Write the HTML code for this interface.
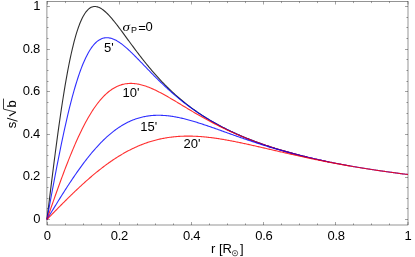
<!DOCTYPE html>
<html><head><meta charset="utf-8"><title>plot</title>
<style>html,body{margin:0;padding:0;background:#fff;}body{width:415px;height:257px;overflow:hidden;font-family:"Liberation Sans",sans-serif;}svg{display:block;will-change:transform;}</style>
</head><body>
<svg width="415" height="257" viewBox="0 0 415 257" font-family="Liberation Sans, sans-serif" font-size="13" fill="#000">
<rect x="46.95" y="1.5" width="361.05" height="223.50" fill="none" stroke="#000" stroke-width="0.42"/>
<path d="M47.45,225.0v-3.0 M47.45,1.5v3.0 M65.50,225.0v-1.6 M65.50,1.5v1.6 M83.50,225.0v-1.6 M83.50,1.5v1.6 M101.50,225.0v-1.6 M101.50,1.5v1.6 M119.50,225.0v-3.0 M119.50,1.5v3.0 M137.50,225.0v-1.6 M137.50,1.5v1.6 M155.50,225.0v-1.6 M155.50,1.5v1.6 M173.50,225.0v-1.6 M173.50,1.5v1.6 M191.50,225.0v-3.0 M191.50,1.5v3.0 M209.50,225.0v-1.6 M209.50,1.5v1.6 M227.50,225.0v-1.6 M227.50,1.5v1.6 M245.50,225.0v-1.6 M245.50,1.5v1.6 M263.50,225.0v-3.0 M263.50,1.5v3.0 M281.50,225.0v-1.6 M281.50,1.5v1.6 M299.50,225.0v-1.6 M299.50,1.5v1.6 M317.50,225.0v-1.6 M317.50,1.5v1.6 M335.50,225.0v-3.0 M335.50,1.5v3.0 M353.50,225.0v-1.6 M353.50,1.5v1.6 M371.50,225.0v-1.6 M371.50,1.5v1.6 M389.50,225.0v-1.6 M389.50,1.5v1.6 M408.00,225.0v-3.0 M408.00,1.5v3.0 M46.95,219.50h3.0 M408.0,219.50h-3.0 M46.95,208.50h1.6 M408.0,208.50h-1.6 M46.95,198.50h1.6 M408.0,198.50h-1.6 M46.95,187.50h1.6 M408.0,187.50h-1.6 M46.95,177.50h3.0 M408.0,177.50h-3.0 M46.95,166.50h1.6 M408.0,166.50h-1.6 M46.95,155.50h1.6 M408.0,155.50h-1.6 M46.95,145.50h1.6 M408.0,145.50h-1.6 M46.95,134.50h3.0 M408.0,134.50h-3.0 M46.95,123.50h1.6 M408.0,123.50h-1.6 M46.95,113.50h1.6 M408.0,113.50h-1.6 M46.95,102.50h1.6 M408.0,102.50h-1.6 M46.95,91.50h3.0 M408.0,91.50h-3.0 M46.95,81.50h1.6 M408.0,81.50h-1.6 M46.95,70.50h1.6 M408.0,70.50h-1.6 M46.95,59.50h1.6 M408.0,59.50h-1.6 M46.95,49.50h3.0 M408.0,49.50h-3.0 M46.95,38.50h1.6 M408.0,38.50h-1.6 M46.95,27.50h1.6 M408.0,27.50h-1.6 M46.95,17.50h1.6 M408.0,17.50h-1.6 M46.95,6.50h3.0 M408.0,6.50h-3.0" fill="none" stroke="#000" stroke-width="0.36"/>
<path d="M46.95,219.46 L47.85,212.09 L48.76,204.73 L49.66,197.39 L50.56,190.09 L51.46,182.83 L52.37,175.63 L53.27,168.49 L54.17,161.44 L55.07,154.47 L55.98,147.60 L56.88,140.84 L57.78,134.19 L58.68,127.67 L59.59,121.29 L60.49,115.04 L61.39,108.95 L62.29,103.01 L63.20,97.23 L64.10,91.62 L65.00,86.18 L65.91,80.92 L66.81,75.84 L67.71,70.95 L68.61,66.24 L69.52,61.72 L70.42,57.39 L71.32,53.25 L72.22,49.30 L73.13,45.55 L74.03,41.99 L74.93,38.62 L75.83,35.44 L76.74,32.45 L77.64,29.64 L78.54,27.02 L79.44,24.57 L80.35,22.30 L81.25,20.21 L82.15,18.28 L83.06,16.52 L83.96,14.92 L84.86,13.48 L85.76,12.19 L86.67,11.04 L87.57,10.04 L88.47,9.17 L89.37,8.44 L90.28,7.83 L91.18,7.34 L92.08,6.97 L92.98,6.71 L93.89,6.55 L94.79,6.50 L95.69,6.54 L96.59,6.67 L97.50,6.89 L98.40,7.19 L99.30,7.57 L100.20,8.02 L101.11,8.54 L102.01,9.12 L102.91,9.77 L103.82,10.47 L104.72,11.22 L105.62,12.02 L106.52,12.86 L107.43,13.75 L108.33,14.67 L109.23,15.63 L110.13,16.63 L111.04,17.65 L111.94,18.70 L112.84,19.78 L113.74,20.87 L114.65,21.99 L115.55,23.13 L116.45,24.28 L117.35,25.45 L118.26,26.63 L119.16,27.82 L120.06,29.03 L120.97,30.24 L121.87,31.45 L122.77,32.67 L123.67,33.90 L124.58,35.13 L125.48,36.36 L126.38,37.60 L127.28,38.83 L128.19,40.06 L129.09,41.29 L129.99,42.52 L130.89,43.75 L131.80,44.98 L132.70,46.20 L133.60,47.41 L134.50,48.62 L135.41,49.83 L136.31,51.03 L137.21,52.23 L138.12,53.41 L139.02,54.59 L139.92,55.77 L140.82,56.93 L141.73,58.09 L142.63,59.24 L143.53,60.39 L144.43,61.52 L145.34,62.65 L146.24,63.76 L147.14,64.87 L148.04,65.97 L148.95,67.06 L149.85,68.14 L150.75,69.21 L151.65,70.27 L152.56,71.33 L153.46,72.37 L154.36,73.40 L155.26,74.43 L156.17,75.44 L157.07,76.45 L157.97,77.44 L158.88,78.43 L159.78,79.40 L160.68,80.37 L161.58,81.32 L162.49,82.27 L163.39,83.21 L164.29,84.14 L165.19,85.05 L166.10,85.96 L167.00,86.86 L167.90,87.75 L168.80,88.63 L169.71,89.50 L170.61,90.36 L171.51,91.22 L172.41,92.06 L173.32,92.90 L174.22,93.72 L175.12,94.54 L176.03,95.35 L176.93,96.15 L177.83,96.94 L178.73,97.72 L179.64,98.49 L180.54,99.26 L181.44,100.01 L182.34,100.76 L183.25,101.50 L184.15,102.24 L185.05,102.96 L185.95,103.68 L186.86,104.39 L187.76,105.09 L188.66,105.78 L189.56,106.47 L190.47,107.15 L191.37,107.82 L192.27,108.49 L193.18,109.14 L194.08,109.79 L194.98,110.44 L195.88,111.07 L196.79,111.70 L197.69,112.33 L198.59,112.94 L199.49,113.55 L200.40,114.16 L201.30,114.76 L202.20,115.35 L203.10,115.93 L204.01,116.51 L204.91,117.08 L205.81,117.65 L206.71,118.21 L207.62,118.77 L208.52,119.32 L209.42,119.86 L210.33,120.40 L211.23,120.93 L212.13,121.46 L213.03,121.98 L213.94,122.50 L214.84,123.01 L215.74,123.52 L216.64,124.02 L217.55,124.52 L218.45,125.01 L219.35,125.50 L220.25,125.98 L221.16,126.46 L222.06,126.93 L222.96,127.40 L223.86,127.86 L224.77,128.32 L225.67,128.78 L226.57,129.23 L227.48,129.67 L228.38,130.12 L229.28,130.55 L230.18,130.99 L231.09,131.42 L231.99,131.84 L232.89,132.27 L233.79,132.68 L234.70,133.10 L235.60,133.51 L236.50,133.91 L237.40,134.32 L238.31,134.71 L239.21,135.11 L240.11,135.50 L241.01,135.89 L241.92,136.27 L242.82,136.66 L243.72,137.03 L244.62,137.41 L245.53,137.78 L246.43,138.15 L247.33,138.51 L248.24,138.87 L249.14,139.23 L250.04,139.59 L250.94,139.94 L251.85,140.29 L252.75,140.63 L253.65,140.98 L254.55,141.32 L255.46,141.65 L256.36,141.99 L257.26,142.32 L258.16,142.65 L259.07,142.98 L259.97,143.30 L260.87,143.62 L261.77,143.94 L262.68,144.25 L263.58,144.57 L264.48,144.88 L265.39,145.18 L266.29,145.49 L267.19,145.79 L268.09,146.09 L269.00,146.39 L269.90,146.68 L270.80,146.98 L271.70,147.27 L272.61,147.56 L273.51,147.84 L274.41,148.13 L275.31,148.41 L276.22,148.69 L277.12,148.96 L278.02,149.24 L278.92,149.51 L279.83,149.78 L280.73,150.05 L281.63,150.32 L282.54,150.58 L283.44,150.85 L284.34,151.11 L285.24,151.37 L286.15,151.62 L287.05,151.88 L287.95,152.13 L288.85,152.38 L289.76,152.63 L290.66,152.88 L291.56,153.12 L292.46,153.37 L293.37,153.61 L294.27,153.85 L295.17,154.09 L296.07,154.33 L296.98,154.56 L297.88,154.79 L298.78,155.03 L299.69,155.26 L300.59,155.48 L301.49,155.71 L302.39,155.94 L303.30,156.16 L304.20,156.38 L305.10,156.60 L306.00,156.82 L306.91,157.04" fill="none" stroke="#000000" stroke-width="1.1" stroke-opacity="0.82" stroke-linejoin="round"/>
<path d="M46.95,219.46 L47.85,214.55 L48.76,209.65 L49.66,204.76 L50.56,199.88 L51.46,195.02 L52.37,190.18 L53.27,185.37 L54.17,180.59 L55.07,175.84 L55.98,171.14 L56.88,166.47 L57.78,161.86 L58.68,157.29 L59.59,152.78 L60.49,148.33 L61.39,143.94 L62.29,139.62 L63.20,135.36 L64.10,131.18 L65.00,127.07 L65.91,123.04 L66.81,119.09 L67.71,115.22 L68.61,111.44 L69.52,107.74 L70.42,104.14 L71.32,100.62 L72.22,97.20 L73.13,93.88 L74.03,90.65 L74.93,87.52 L75.83,84.48 L76.74,81.55 L77.64,78.71 L78.54,75.98 L79.44,73.34 L80.35,70.81 L81.25,68.38 L82.15,66.05 L83.06,63.82 L83.96,61.69 L84.86,59.66 L85.76,57.73 L86.67,55.90 L87.57,54.17 L88.47,52.53 L89.37,50.99 L90.28,49.54 L91.18,48.18 L92.08,46.92 L92.98,45.75 L93.89,44.66 L94.79,43.67 L95.69,42.75 L96.59,41.92 L97.50,41.17 L98.40,40.50 L99.30,39.91 L100.20,39.40 L101.11,38.95 L102.01,38.58 L102.91,38.28 L103.82,38.04 L104.72,37.87 L105.62,37.76 L106.52,37.72 L107.43,37.73 L108.33,37.80 L109.23,37.92 L110.13,38.09 L111.04,38.32 L111.94,38.59 L112.84,38.91 L113.74,39.27 L114.65,39.67 L115.55,40.11 L116.45,40.59 L117.35,41.11 L118.26,41.66 L119.16,42.25 L120.06,42.86 L120.97,43.51 L121.87,44.18 L122.77,44.87 L123.67,45.59 L124.58,46.33 L125.48,47.10 L126.38,47.88 L127.28,48.68 L128.19,49.50 L129.09,50.33 L129.99,51.18 L130.89,52.04 L131.80,52.91 L132.70,53.79 L133.60,54.68 L134.50,55.58 L135.41,56.49 L136.31,57.40 L137.21,58.32 L138.12,59.25 L139.02,60.18 L139.92,61.11 L140.82,62.05 L141.73,62.98 L142.63,63.92 L143.53,64.86 L144.43,65.80 L145.34,66.74 L146.24,67.68 L147.14,68.61 L148.04,69.55 L148.95,70.48 L149.85,71.41 L150.75,72.34 L151.65,73.26 L152.56,74.18 L153.46,75.09 L154.36,76.01 L155.26,76.91 L156.17,77.81 L157.07,78.71 L157.97,79.60 L158.88,80.49 L159.78,81.37 L160.68,82.24 L161.58,83.11 L162.49,83.97 L163.39,84.83 L164.29,85.68 L165.19,86.52 L166.10,87.36 L167.00,88.19 L167.90,89.01 L168.80,89.83 L169.71,90.64 L170.61,91.44 L171.51,92.24 L172.41,93.03 L173.32,93.82 L174.22,94.59 L175.12,95.36 L176.03,96.13 L176.93,96.89 L177.83,97.64 L178.73,98.38 L179.64,99.12 L180.54,99.85 L181.44,100.57 L182.34,101.29 L183.25,102.00 L184.15,102.70 L185.05,103.40 L185.95,104.09 L186.86,104.77 L187.76,105.45 L188.66,106.12 L189.56,106.79 L190.47,107.45 L191.37,108.10 L192.27,108.75 L193.18,109.39 L194.08,110.02 L194.98,110.65 L195.88,111.27 L196.79,111.89 L197.69,112.50 L198.59,113.10 L199.49,113.70 L200.40,114.29 L201.30,114.88 L202.20,115.46 L203.10,116.04 L204.01,116.61 L204.91,117.17 L205.81,117.73 L206.71,118.29 L207.62,118.84 L208.52,119.38 L209.42,119.92 L210.33,120.45 L211.23,120.98 L212.13,121.50 L213.03,122.02 L213.94,122.53 L214.84,123.04 L215.74,123.55 L216.64,124.04 L217.55,124.54 L218.45,125.03 L219.35,125.51 L220.25,125.99 L221.16,126.47 L222.06,126.94 L222.96,127.41 L223.86,127.87 L224.77,128.33 L225.67,128.78 L226.57,129.23 L227.48,129.67 L228.38,130.11 L229.28,130.55 L230.18,130.98 L231.09,131.41 L231.99,131.84 L232.89,132.26 L233.79,132.68 L234.70,133.09 L235.60,133.50 L236.50,133.91 L237.40,134.31 L238.31,134.71 L239.21,135.10 L240.11,135.49 L241.01,135.88 L241.92,136.27 L242.82,136.65 L243.72,137.03 L244.62,137.40 L245.53,137.77 L246.43,138.14 L247.33,138.50 L248.24,138.87 L249.14,139.22 L250.04,139.58 L250.94,139.93 L251.85,140.28 L252.75,140.63 L253.65,140.97 L254.55,141.31 L255.46,141.65 L256.36,141.98 L257.26,142.32 L258.16,142.64 L259.07,142.97 L259.97,143.29 L260.87,143.61 L261.77,143.93 L262.68,144.25 L263.58,144.56 L264.48,144.87 L265.39,145.18 L266.29,145.48 L267.19,145.79 L268.09,146.09 L269.00,146.39 L269.90,146.68 L270.80,146.97 L271.70,147.27 L272.61,147.55 L273.51,147.84 L274.41,148.12 L275.31,148.41 L276.22,148.69 L277.12,148.96 L278.02,149.24 L278.92,149.51 L279.83,149.78 L280.73,150.05 L281.63,150.32 L282.54,150.58 L283.44,150.85 L284.34,151.11 L285.24,151.36 L286.15,151.62 L287.05,151.88 L287.95,152.13 L288.85,152.38 L289.76,152.63 L290.66,152.88 L291.56,153.12 L292.46,153.37 L293.37,153.61 L294.27,153.85 L295.17,154.09 L296.07,154.32 L296.98,154.56 L297.88,154.79 L298.78,155.03 L299.69,155.26 L300.59,155.48 L301.49,155.71 L302.39,155.94 L303.30,156.16 L304.20,156.38 L305.10,156.60 L306.00,156.82 L306.91,157.04 L307.81,157.25 L308.71,157.47 L309.61,157.68 L310.52,157.89 L311.42,158.10 L312.32,158.31 L313.22,158.52 L314.13,158.73 L315.03,158.93 L315.93,159.13 L316.83,159.34 L317.74,159.54 L318.64,159.73 L319.54,159.93 L320.45,160.13 L321.35,160.32 L322.25,160.52 L323.15,160.71 L324.06,160.90 L324.96,161.09 L325.86,161.28 L326.76,161.47 L327.67,161.65 L328.57,161.84" fill="none" stroke="#0000ff" stroke-width="1.1" stroke-opacity="0.82" stroke-linejoin="round"/>
<path d="M46.95,219.46 L47.85,216.87 L48.76,214.28 L49.66,211.70 L50.56,209.11 L51.46,206.53 L52.37,203.96 L53.27,201.40 L54.17,198.84 L55.07,196.29 L55.98,193.75 L56.88,191.23 L57.78,188.71 L58.68,186.21 L59.59,183.73 L60.49,181.26 L61.39,178.80 L62.29,176.37 L63.20,173.95 L64.10,171.55 L65.00,169.17 L65.91,166.82 L66.81,164.49 L67.71,162.18 L68.61,159.89 L69.52,157.63 L70.42,155.40 L71.32,153.19 L72.22,151.02 L73.13,148.87 L74.03,146.74 L74.93,144.65 L75.83,142.59 L76.74,140.56 L77.64,138.56 L78.54,136.60 L79.44,134.66 L80.35,132.77 L81.25,130.90 L82.15,129.07 L83.06,127.27 L83.96,125.51 L84.86,123.79 L85.76,122.10 L86.67,120.44 L87.57,118.83 L88.47,117.25 L89.37,115.70 L90.28,114.20 L91.18,112.73 L92.08,111.30 L92.98,109.91 L93.89,108.55 L94.79,107.24 L95.69,105.96 L96.59,104.72 L97.50,103.52 L98.40,102.35 L99.30,101.22 L100.20,100.13 L101.11,99.08 L102.01,98.07 L102.91,97.09 L103.82,96.15 L104.72,95.24 L105.62,94.38 L106.52,93.55 L107.43,92.75 L108.33,91.99 L109.23,91.27 L110.13,90.58 L111.04,89.93 L111.94,89.31 L112.84,88.72 L113.74,88.17 L114.65,87.65 L115.55,87.16 L116.45,86.71 L117.35,86.29 L118.26,85.89 L119.16,85.53 L120.06,85.20 L120.97,84.90 L121.87,84.63 L122.77,84.39 L123.67,84.17 L124.58,83.99 L125.48,83.83 L126.38,83.69 L127.28,83.59 L128.19,83.51 L129.09,83.45 L129.99,83.42 L130.89,83.41 L131.80,83.42 L132.70,83.46 L133.60,83.52 L134.50,83.60 L135.41,83.70 L136.31,83.82 L137.21,83.97 L138.12,84.13 L139.02,84.31 L139.92,84.50 L140.82,84.72 L141.73,84.95 L142.63,85.20 L143.53,85.46 L144.43,85.74 L145.34,86.04 L146.24,86.35 L147.14,86.67 L148.04,87.01 L148.95,87.36 L149.85,87.72 L150.75,88.09 L151.65,88.48 L152.56,88.87 L153.46,89.28 L154.36,89.69 L155.26,90.12 L156.17,90.55 L157.07,91.00 L157.97,91.45 L158.88,91.91 L159.78,92.37 L160.68,92.85 L161.58,93.33 L162.49,93.81 L163.39,94.30 L164.29,94.80 L165.19,95.30 L166.10,95.81 L167.00,96.32 L167.90,96.84 L168.80,97.36 L169.71,97.88 L170.61,98.40 L171.51,98.93 L172.41,99.46 L173.32,100.00 L174.22,100.53 L175.12,101.07 L176.03,101.61 L176.93,102.15 L177.83,102.69 L178.73,103.24 L179.64,103.78 L180.54,104.32 L181.44,104.87 L182.34,105.41 L183.25,105.95 L184.15,106.50 L185.05,107.04 L185.95,107.58 L186.86,108.12 L187.76,108.66 L188.66,109.20 L189.56,109.74 L190.47,110.28 L191.37,110.81 L192.27,111.35 L193.18,111.88 L194.08,112.41 L194.98,112.94 L195.88,113.46 L196.79,113.99 L197.69,114.51 L198.59,115.03 L199.49,115.55 L200.40,116.06 L201.30,116.57 L202.20,117.08 L203.10,117.59 L204.01,118.09 L204.91,118.59 L205.81,119.09 L206.71,119.59 L207.62,120.08 L208.52,120.57 L209.42,121.06 L210.33,121.54 L211.23,122.02 L212.13,122.50 L213.03,122.97 L213.94,123.44 L214.84,123.91 L215.74,124.38 L216.64,124.84 L217.55,125.30 L218.45,125.75 L219.35,126.20 L220.25,126.65 L221.16,127.10 L222.06,127.54 L222.96,127.98 L223.86,128.42 L224.77,128.85 L225.67,129.28 L226.57,129.71 L227.48,130.13 L228.38,130.55 L229.28,130.97 L230.18,131.38 L231.09,131.79 L231.99,132.20 L232.89,132.60 L233.79,133.01 L234.70,133.40 L235.60,133.80 L236.50,134.19 L237.40,134.58 L238.31,134.97 L239.21,135.35 L240.11,135.73 L241.01,136.11 L241.92,136.48 L242.82,136.85 L243.72,137.22 L244.62,137.59 L245.53,137.95 L246.43,138.31 L247.33,138.66 L248.24,139.02 L249.14,139.37 L250.04,139.72 L250.94,140.06 L251.85,140.41 L252.75,140.75 L253.65,141.08 L254.55,141.42 L255.46,141.75 L256.36,142.08 L257.26,142.41 L258.16,142.73 L259.07,143.05 L259.97,143.37 L260.87,143.69 L261.77,144.00 L262.68,144.32 L263.58,144.62 L264.48,144.93 L265.39,145.24 L266.29,145.54 L267.19,145.84 L268.09,146.14 L269.00,146.43 L269.90,146.73 L270.80,147.02 L271.70,147.30 L272.61,147.59 L273.51,147.88 L274.41,148.16 L275.31,148.44 L276.22,148.72 L277.12,148.99 L278.02,149.26 L278.92,149.54 L279.83,149.81 L280.73,150.07 L281.63,150.34 L282.54,150.60 L283.44,150.86 L284.34,151.12 L285.24,151.38 L286.15,151.64 L287.05,151.89 L287.95,152.14 L288.85,152.39 L289.76,152.64 L290.66,152.89 L291.56,153.14 L292.46,153.38 L293.37,153.62 L294.27,153.86 L295.17,154.10 L296.07,154.33 L296.98,154.57 L297.88,154.80 L298.78,155.03 L299.69,155.26 L300.59,155.49 L301.49,155.72 L302.39,155.94 L303.30,156.17 L304.20,156.39 L305.10,156.61 L306.00,156.83 L306.91,157.04 L307.81,157.26 L308.71,157.47 L309.61,157.69 L310.52,157.90 L311.42,158.11 L312.32,158.32 L313.22,158.52 L314.13,158.73 L315.03,158.93 L315.93,159.14 L316.83,159.34 L317.74,159.54 L318.64,159.74 L319.54,159.93 L320.45,160.13 L321.35,160.33 L322.25,160.52 L323.15,160.71 L324.06,160.90 L324.96,161.09 L325.86,161.28 L326.76,161.47 L327.67,161.66 L328.57,161.84 L329.47,162.03 L330.37,162.21 L331.28,162.39 L332.18,162.57 L333.08,162.75 L333.98,162.93 L334.89,163.11 L335.79,163.28 L336.69,163.46 L337.60,163.63 L338.50,163.80 L339.40,163.97 L340.30,164.15 L341.21,164.32 L342.11,164.48 L343.01,164.65 L343.91,164.82 L344.82,164.98 L345.72,165.15 L346.62,165.31 L347.52,165.47 L348.43,165.64 L349.33,165.80 L350.23,165.96" fill="none" stroke="#ff0000" stroke-width="1.1" stroke-opacity="0.82" stroke-linejoin="round"/>
<path d="M46.95,219.46 L47.85,217.98 L48.76,216.49 L49.66,215.01 L50.56,213.53 L51.46,212.05 L52.37,210.57 L53.27,209.10 L54.17,207.62 L55.07,206.15 L55.98,204.68 L56.88,203.22 L57.78,201.76 L58.68,200.31 L59.59,198.86 L60.49,197.41 L61.39,195.97 L62.29,194.54 L63.20,193.11 L64.10,191.69 L65.00,190.27 L65.91,188.86 L66.81,187.46 L67.71,186.07 L68.61,184.69 L69.52,183.31 L70.42,181.94 L71.32,180.58 L72.22,179.23 L73.13,177.89 L74.03,176.57 L74.93,175.25 L75.83,173.94 L76.74,172.64 L77.64,171.35 L78.54,170.07 L79.44,168.81 L80.35,167.56 L81.25,166.31 L82.15,165.09 L83.06,163.87 L83.96,162.67 L84.86,161.47 L85.76,160.30 L86.67,159.13 L87.57,157.98 L88.47,156.84 L89.37,155.72 L90.28,154.61 L91.18,153.52 L92.08,152.44 L92.98,151.37 L93.89,150.32 L94.79,149.28 L95.69,148.26 L96.59,147.26 L97.50,146.26 L98.40,145.29 L99.30,144.33 L100.20,143.39 L101.11,142.46 L102.01,141.54 L102.91,140.65 L103.82,139.77 L104.72,138.90 L105.62,138.05 L106.52,137.22 L107.43,136.40 L108.33,135.60 L109.23,134.82 L110.13,134.05 L111.04,133.30 L111.94,132.56 L112.84,131.85 L113.74,131.14 L114.65,130.46 L115.55,129.79 L116.45,129.13 L117.35,128.50 L118.26,127.88 L119.16,127.27 L120.06,126.68 L120.97,126.11 L121.87,125.55 L122.77,125.01 L123.67,124.49 L124.58,123.98 L125.48,123.49 L126.38,123.01 L127.28,122.55 L128.19,122.10 L129.09,121.67 L129.99,121.26 L130.89,120.86 L131.80,120.47 L132.70,120.10 L133.60,119.75 L134.50,119.41 L135.41,119.08 L136.31,118.77 L137.21,118.47 L138.12,118.19 L139.02,117.92 L139.92,117.67 L140.82,117.43 L141.73,117.20 L142.63,116.99 L143.53,116.79 L144.43,116.60 L145.34,116.43 L146.24,116.26 L147.14,116.12 L148.04,115.98 L148.95,115.86 L149.85,115.75 L150.75,115.65 L151.65,115.56 L152.56,115.49 L153.46,115.42 L154.36,115.37 L155.26,115.33 L156.17,115.30 L157.07,115.28 L157.97,115.27 L158.88,115.27 L159.78,115.28 L160.68,115.30 L161.58,115.33 L162.49,115.37 L163.39,115.43 L164.29,115.49 L165.19,115.55 L166.10,115.63 L167.00,115.72 L167.90,115.81 L168.80,115.92 L169.71,116.03 L170.61,116.15 L171.51,116.28 L172.41,116.41 L173.32,116.56 L174.22,116.71 L175.12,116.86 L176.03,117.03 L176.93,117.20 L177.83,117.38 L178.73,117.56 L179.64,117.75 L180.54,117.95 L181.44,118.15 L182.34,118.36 L183.25,118.57 L184.15,118.79 L185.05,119.01 L185.95,119.24 L186.86,119.48 L187.76,119.72 L188.66,119.96 L189.56,120.21 L190.47,120.46 L191.37,120.71 L192.27,120.98 L193.18,121.24 L194.08,121.51 L194.98,121.78 L195.88,122.05 L196.79,122.33 L197.69,122.61 L198.59,122.90 L199.49,123.18 L200.40,123.47 L201.30,123.77 L202.20,124.06 L203.10,124.36 L204.01,124.66 L204.91,124.96 L205.81,125.26 L206.71,125.57 L207.62,125.88 L208.52,126.19 L209.42,126.50 L210.33,126.81 L211.23,127.12 L212.13,127.44 L213.03,127.76 L213.94,128.07 L214.84,128.39 L215.74,128.71 L216.64,129.03 L217.55,129.35 L218.45,129.67 L219.35,129.99 L220.25,130.32 L221.16,130.64 L222.06,130.96 L222.96,131.28 L223.86,131.61 L224.77,131.93 L225.67,132.26 L226.57,132.58 L227.48,132.90 L228.38,133.22 L229.28,133.55 L230.18,133.87 L231.09,134.19 L231.99,134.51 L232.89,134.84 L233.79,135.16 L234.70,135.48 L235.60,135.80 L236.50,136.12 L237.40,136.43 L238.31,136.75 L239.21,137.07 L240.11,137.38 L241.01,137.70 L241.92,138.01 L242.82,138.33 L243.72,138.64 L244.62,138.95 L245.53,139.26 L246.43,139.57 L247.33,139.88 L248.24,140.19 L249.14,140.49 L250.04,140.80 L250.94,141.10 L251.85,141.40 L252.75,141.70 L253.65,142.00 L254.55,142.30 L255.46,142.60 L256.36,142.89 L257.26,143.19 L258.16,143.48 L259.07,143.77 L259.97,144.06 L260.87,144.35 L261.77,144.64 L262.68,144.92 L263.58,145.21 L264.48,145.49 L265.39,145.77 L266.29,146.05 L267.19,146.33 L268.09,146.61 L269.00,146.88 L269.90,147.16 L270.80,147.43 L271.70,147.70 L272.61,147.97 L273.51,148.24 L274.41,148.50 L275.31,148.77 L276.22,149.03 L277.12,149.29 L278.02,149.55 L278.92,149.81 L279.83,150.07 L280.73,150.33 L281.63,150.58 L282.54,150.83 L283.44,151.09 L284.34,151.34 L285.24,151.58 L286.15,151.83 L287.05,152.08 L287.95,152.32 L288.85,152.56 L289.76,152.80 L290.66,153.04 L291.56,153.28 L292.46,153.52 L293.37,153.75 L294.27,153.99 L295.17,154.22 L296.07,154.45 L296.98,154.68 L297.88,154.91 L298.78,155.13 L299.69,155.36 L300.59,155.58 L301.49,155.80 L302.39,156.02 L303.30,156.24 L304.20,156.46 L305.10,156.68 L306.00,156.89 L306.91,157.11 L307.81,157.32 L308.71,157.53 L309.61,157.74 L310.52,157.95 L311.42,158.16 L312.32,158.36 L313.22,158.57 L314.13,158.77 L315.03,158.97 L315.93,159.17 L316.83,159.37 L317.74,159.57 L318.64,159.77 L319.54,159.97 L320.45,160.16 L321.35,160.35 L322.25,160.55 L323.15,160.74 L324.06,160.93 L324.96,161.12 L325.86,161.30 L326.76,161.49 L327.67,161.68 L328.57,161.86 L329.47,162.04 L330.37,162.22 L331.28,162.41 L332.18,162.59 L333.08,162.76 L333.98,162.94 L334.89,163.12 L335.79,163.29 L336.69,163.47 L337.60,163.64 L338.50,163.81 L339.40,163.98 L340.30,164.15 L341.21,164.32 L342.11,164.49 L343.01,164.66 L343.91,164.83 L344.82,164.99 L345.72,165.15 L346.62,165.32 L347.52,165.48 L348.43,165.64 L349.33,165.80 L350.23,165.96 L351.13,166.12 L352.04,166.28 L352.94,166.43 L353.84,166.59 L354.75,166.74 L355.65,166.90 L356.55,167.05 L357.45,167.20 L358.36,167.35 L359.26,167.51 L360.16,167.65 L361.06,167.80 L361.97,167.95 L362.87,168.10 L363.77,168.24 L364.67,168.39 L365.58,168.53 L366.48,168.68 L367.38,168.82 L368.28,168.96 L369.19,169.10 L370.09,169.25 L370.99,169.39 L371.89,169.52 L372.80,169.66 L373.70,169.80 L374.60,169.94 L375.51,170.07 L376.41,170.21 L377.31,170.34 L378.21,170.48 L379.12,170.61 L380.02,170.74 L380.92,170.87 L381.82,171.00 L382.73,171.13 L383.63,171.26 L384.53,171.39 L385.43,171.52 L386.34,171.65 L387.24,171.78 L388.14,171.90 L389.04,172.03 L389.95,172.15 L390.85,172.28 L391.75,172.40 L392.66,172.52 L393.56,172.64 L394.46,172.77 L395.36,172.89 L396.27,173.01 L397.17,173.13 L398.07,173.25 L398.97,173.36 L399.88,173.48 L400.78,173.60 L401.68,173.72 L402.58,173.83 L403.49,173.95 L404.39,174.06 L405.29,174.18 L406.19,174.29 L407.10,174.40 L408.00,174.52" fill="none" stroke="#0000ff" stroke-width="1.1" stroke-opacity="0.82" stroke-linejoin="round"/>
<path d="M46.95,219.46 L47.85,218.54 L48.76,217.61 L49.66,216.69 L50.56,215.76 L51.46,214.84 L52.37,213.92 L53.27,213.00 L54.17,212.08 L55.07,211.16 L55.98,210.24 L56.88,209.32 L57.78,208.41 L58.68,207.49 L59.59,206.58 L60.49,205.67 L61.39,204.76 L62.29,203.86 L63.20,202.95 L64.10,202.05 L65.00,201.15 L65.91,200.25 L66.81,199.36 L67.71,198.47 L68.61,197.58 L69.52,196.70 L70.42,195.82 L71.32,194.94 L72.22,194.06 L73.13,193.19 L74.03,192.33 L74.93,191.46 L75.83,190.61 L76.74,189.75 L77.64,188.90 L78.54,188.05 L79.44,187.21 L80.35,186.37 L81.25,185.54 L82.15,184.71 L83.06,183.89 L83.96,183.07 L84.86,182.26 L85.76,181.45 L86.67,180.65 L87.57,179.85 L88.47,179.06 L89.37,178.27 L90.28,177.49 L91.18,176.72 L92.08,175.95 L92.98,175.19 L93.89,174.43 L94.79,173.68 L95.69,172.94 L96.59,172.20 L97.50,171.47 L98.40,170.74 L99.30,170.02 L100.20,169.31 L101.11,168.61 L102.01,167.91 L102.91,167.22 L103.82,166.53 L104.72,165.85 L105.62,165.18 L106.52,164.52 L107.43,163.86 L108.33,163.22 L109.23,162.57 L110.13,161.94 L111.04,161.31 L111.94,160.69 L112.84,160.08 L113.74,159.47 L114.65,158.88 L115.55,158.29 L116.45,157.71 L117.35,157.13 L118.26,156.57 L119.16,156.01 L120.06,155.46 L120.97,154.91 L121.87,154.38 L122.77,153.85 L123.67,153.33 L124.58,152.82 L125.48,152.32 L126.38,151.82 L127.28,151.33 L128.19,150.85 L129.09,150.38 L129.99,149.92 L130.89,149.46 L131.80,149.02 L132.70,148.58 L133.60,148.15 L134.50,147.72 L135.41,147.31 L136.31,146.90 L137.21,146.50 L138.12,146.11 L139.02,145.73 L139.92,145.35 L140.82,144.99 L141.73,144.63 L142.63,144.28 L143.53,143.93 L144.43,143.60 L145.34,143.27 L146.24,142.95 L147.14,142.64 L148.04,142.34 L148.95,142.04 L149.85,141.75 L150.75,141.47 L151.65,141.20 L152.56,140.94 L153.46,140.68 L154.36,140.43 L155.26,140.19 L156.17,139.95 L157.07,139.73 L157.97,139.51 L158.88,139.29 L159.78,139.09 L160.68,138.89 L161.58,138.70 L162.49,138.52 L163.39,138.35 L164.29,138.18 L165.19,138.02 L166.10,137.86 L167.00,137.71 L167.90,137.57 L168.80,137.44 L169.71,137.31 L170.61,137.19 L171.51,137.08 L172.41,136.97 L173.32,136.87 L174.22,136.78 L175.12,136.69 L176.03,136.61 L176.93,136.54 L177.83,136.47 L178.73,136.40 L179.64,136.35 L180.54,136.30 L181.44,136.25 L182.34,136.22 L183.25,136.18 L184.15,136.16 L185.05,136.13 L185.95,136.12 L186.86,136.11 L187.76,136.10 L188.66,136.10 L189.56,136.11 L190.47,136.12 L191.37,136.14 L192.27,136.16 L193.18,136.19 L194.08,136.22 L194.98,136.25 L195.88,136.30 L196.79,136.34 L197.69,136.39 L198.59,136.45 L199.49,136.51 L200.40,136.57 L201.30,136.64 L202.20,136.71 L203.10,136.79 L204.01,136.87 L204.91,136.95 L205.81,137.04 L206.71,137.14 L207.62,137.23 L208.52,137.33 L209.42,137.44 L210.33,137.54 L211.23,137.66 L212.13,137.77 L213.03,137.89 L213.94,138.01 L214.84,138.13 L215.74,138.26 L216.64,138.39 L217.55,138.53 L218.45,138.66 L219.35,138.80 L220.25,138.94 L221.16,139.09 L222.06,139.24 L222.96,139.39 L223.86,139.54 L224.77,139.70 L225.67,139.85 L226.57,140.02 L227.48,140.18 L228.38,140.34 L229.28,140.51 L230.18,140.68 L231.09,140.85 L231.99,141.02 L232.89,141.20 L233.79,141.37 L234.70,141.55 L235.60,141.73 L236.50,141.92 L237.40,142.10 L238.31,142.28 L239.21,142.47 L240.11,142.66 L241.01,142.85 L241.92,143.04 L242.82,143.23 L243.72,143.42 L244.62,143.62 L245.53,143.82 L246.43,144.01 L247.33,144.21 L248.24,144.41 L249.14,144.61 L250.04,144.81 L250.94,145.01 L251.85,145.21 L252.75,145.42 L253.65,145.62 L254.55,145.82 L255.46,146.03 L256.36,146.23 L257.26,146.44 L258.16,146.65 L259.07,146.85 L259.97,147.06 L260.87,147.27 L261.77,147.48 L262.68,147.69 L263.58,147.90 L264.48,148.10 L265.39,148.31 L266.29,148.52 L267.19,148.73 L268.09,148.94 L269.00,149.15 L269.90,149.36 L270.80,149.57 L271.70,149.78 L272.61,149.99 L273.51,150.20 L274.41,150.41 L275.31,150.62 L276.22,150.83 L277.12,151.04 L278.02,151.25 L278.92,151.46 L279.83,151.67 L280.73,151.87 L281.63,152.08 L282.54,152.29 L283.44,152.50 L284.34,152.70 L285.24,152.91 L286.15,153.12 L287.05,153.32 L287.95,153.53 L288.85,153.73 L289.76,153.94 L290.66,154.14 L291.56,154.34 L292.46,154.55 L293.37,154.75 L294.27,154.95 L295.17,155.15 L296.07,155.35 L296.98,155.55 L297.88,155.75 L298.78,155.95 L299.69,156.15 L300.59,156.35 L301.49,156.54 L302.39,156.74 L303.30,156.94 L304.20,157.13 L305.10,157.33 L306.00,157.52 L306.91,157.71 L307.81,157.90 L308.71,158.10 L309.61,158.29 L310.52,158.48 L311.42,158.67 L312.32,158.85 L313.22,159.04 L314.13,159.23 L315.03,159.42 L315.93,159.60 L316.83,159.79 L317.74,159.97 L318.64,160.15 L319.54,160.34 L320.45,160.52 L321.35,160.70 L322.25,160.88 L323.15,161.06 L324.06,161.24 L324.96,161.41 L325.86,161.59 L326.76,161.77 L327.67,161.94 L328.57,162.12 L329.47,162.29 L330.37,162.46 L331.28,162.63 L332.18,162.81 L333.08,162.98 L333.98,163.15 L334.89,163.31 L335.79,163.48 L336.69,163.65 L337.60,163.82 L338.50,163.98 L339.40,164.15 L340.30,164.31 L341.21,164.47 L342.11,164.64 L343.01,164.80 L343.91,164.96 L344.82,165.12 L345.72,165.28 L346.62,165.44 L347.52,165.59 L348.43,165.75 L349.33,165.91 L350.23,166.06 L351.13,166.22 L352.04,166.37 L352.94,166.52 L353.84,166.68 L354.75,166.83 L355.65,166.98 L356.55,167.13 L357.45,167.28 L358.36,167.42 L359.26,167.57 L360.16,167.72 L361.06,167.87 L361.97,168.01 L362.87,168.16 L363.77,168.30 L364.67,168.44 L365.58,168.58 L366.48,168.73 L367.38,168.87 L368.28,169.01 L369.19,169.15 L370.09,169.29 L370.99,169.42 L371.89,169.56 L372.80,169.70 L373.70,169.83 L374.60,169.97 L375.51,170.10 L376.41,170.24 L377.31,170.37 L378.21,170.50 L379.12,170.64 L380.02,170.77 L380.92,170.90 L381.82,171.03 L382.73,171.16 L383.63,171.28 L384.53,171.41 L385.43,171.54 L386.34,171.67 L387.24,171.79 L388.14,171.92 L389.04,172.04 L389.95,172.17 L390.85,172.29 L391.75,172.41 L392.66,172.54 L393.56,172.66 L394.46,172.78 L395.36,172.90 L396.27,173.02 L397.17,173.14 L398.07,173.26 L398.97,173.37 L399.88,173.49 L400.78,173.61 L401.68,173.72 L402.58,173.84 L403.49,173.96 L404.39,174.07 L405.29,174.18 L406.19,174.30 L407.10,174.41 L408.00,174.52" fill="none" stroke="#ff0000" stroke-width="1.1" stroke-opacity="0.82" stroke-linejoin="round"/>
<text x="47.45" y="239.6" text-anchor="middle">0</text>
<text x="119.46" y="239.6" text-anchor="middle" letter-spacing="-0.25">0.2</text>
<text x="191.67" y="239.6" text-anchor="middle" letter-spacing="-0.25">0.4</text>
<text x="263.88" y="239.6" text-anchor="middle" letter-spacing="-0.25">0.6</text>
<text x="336.09" y="239.6" text-anchor="middle" letter-spacing="-0.25">0.8</text>
<text x="408.00" y="239.6" text-anchor="middle">1</text>
<text x="40.4" y="223.06" text-anchor="end">0</text>
<text x="40.0" y="180.47" text-anchor="end" letter-spacing="-0.25">0.2</text>
<text x="40.0" y="137.87" text-anchor="end" letter-spacing="-0.25">0.4</text>
<text x="40.0" y="95.28" text-anchor="end" letter-spacing="-0.25">0.6</text>
<text x="40.0" y="52.68" text-anchor="end" letter-spacing="-0.25">0.8</text>
<text x="40.4" y="10.09" text-anchor="end">1</text>
<text transform="translate(122.6,30.9) scale(1.3,1)" font-family="Liberation Serif, serif" font-style="italic" font-size="11.6">σ</text>
<text x="131.1" y="33.2" font-size="9">P</text>
<text x="138.2" y="32.2">=</text>
<text x="145.6" y="31.1">0</text>
<text x="104" y="52.4">5'</text>
<text x="122.5" y="96.9">10'</text>
<text x="140.2" y="130.8">15'</text>
<text x="183.5" y="147.9">20'</text>
<text x="211" y="252.7">r [R</text>
<circle cx="235" cy="253.2" r="2.7" fill="none" stroke="#000" stroke-width="0.6"/><circle cx="235" cy="253.2" r="0.7" fill="#000"/>
<text x="240" y="252.7">]</text>
<g transform="translate(15.6,128.8) rotate(-90)"><text x="0.5" y="0">s</text><path d="M7.55,1.9 L10.7,-8.6" fill="none" stroke="#000" stroke-width="0.95"/><text x="21.3" y="0">b</text><path d="M12.1,-5.2 L13.1,-6.3" fill="none" stroke="#000" stroke-width="0.6"/><path d="M13.0,-6.2 L16.5,0.1" fill="none" stroke="#000" stroke-width="1.3"/><path d="M16.6,0.4 L19.7,-12.1 H30.2" fill="none" stroke="#000" stroke-width="0.75" stroke-linejoin="miter"/></g>
</svg>
</body></html>
